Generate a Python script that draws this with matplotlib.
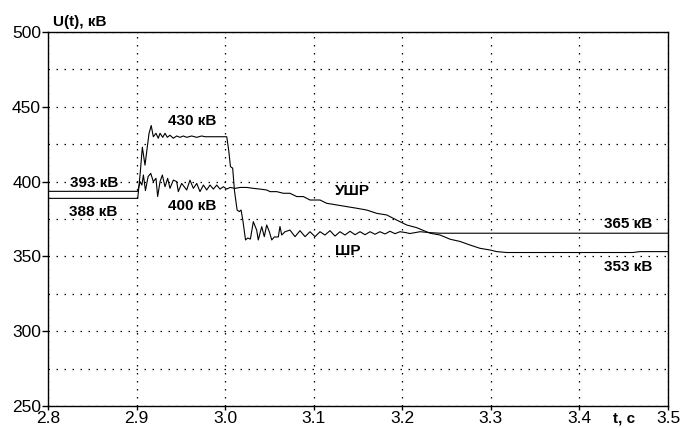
import matplotlib

matplotlib.use("Agg")
import matplotlib.pyplot as plt
from matplotlib.ticker import FormatStrFormatter, MultipleLocator


plt.rcParams["font.family"] = ["Liberation Sans", "DejaVu Sans"]

TICK_FONT_SIZE = 12.5
NOTE_FONT_SIZE = 11

# ШР (fixed shunt reactor) curve
SR_T = [
    2.800, 2.9013, 2.9040, 2.9065, 2.9095, 2.9140, 2.9165, 2.9189, 2.9219,
    2.9245, 2.9265, 2.9295, 2.9321, 2.9347, 2.9377, 2.9415, 2.9453, 2.9490,
    2.9528, 2.9566, 2.9622, 2.9679, 2.9735, 2.9773, 3.0018, 3.0040, 3.0060,
    3.0085, 3.0105, 3.0135, 3.0160, 3.0180, 3.0200, 3.0230, 3.0255, 3.0285,
    3.0318, 3.0356, 3.0374, 3.0413, 3.0442, 3.0469, 3.0499, 3.0526, 3.0555,
    3.0600, 3.0619, 3.0639, 3.0676, 3.0732, 3.0789, 3.0845, 3.0902, 3.0958,
    3.1015, 3.1071, 3.1127, 3.1184, 3.1240, 3.1297, 3.1353, 3.1410, 3.1466,
    3.1523, 3.1579, 3.1636, 3.1692, 3.1748, 3.1805, 3.1861, 3.1918, 3.1974,
    3.2031, 3.2087, 3.2200, 3.2313, 3.2426, 3.500,
]
SR_U = [
    388.8, 388.8, 405.0, 423.0, 411.0, 432.0, 437.5, 430.0, 432.3,
    429.0, 432.3, 429.6, 432.3, 429.6, 431.0, 429.0, 430.5, 429.6,
    430.5, 429.6, 430.5, 429.6, 430.5, 430.0, 430.0, 421.0, 410.0,
    409.0, 394.0, 381.0, 380.0, 381.0, 374.0, 361.0, 362.3, 361.6,
    373.2, 367.6, 361.0, 369.9, 363.2, 371.0, 366.5, 361.0, 363.0,
    363.0, 370.0, 364.3, 366.5, 367.6, 363.2, 367.2, 363.2, 366.5,
    363.2, 366.5, 364.3, 367.2, 363.6, 366.5, 364.3, 366.8, 364.5,
    366.5, 364.5, 366.5, 364.8, 366.5, 365.0, 366.8, 365.2, 366.5,
    366.0, 365.3, 366.5, 365.9, 365.5, 365.5,
]

# УШР (controlled shunt reactor) curve
USR_T = [
    2.800, 2.9013, 2.9040, 2.9060, 2.9077, 2.9100, 2.9130, 2.9160, 2.9189,
    2.9219, 2.9238, 2.9265, 2.9291, 2.9321, 2.9351, 2.9377, 2.9415, 2.9453,
    2.9471, 2.9509, 2.9566, 2.9603, 2.9641, 2.9679, 2.9716, 2.9754, 2.9792,
    2.9829, 2.9867, 2.9905, 2.9942, 2.9980, 3.0018, 3.0056, 3.0113, 3.0169,
    3.0245, 3.0318, 3.0394, 3.0469, 3.0507, 3.0582, 3.0657, 3.0732, 3.0808,
    3.0883, 3.0958, 3.1071, 3.1147, 3.1260, 3.1372, 3.1485, 3.1598, 3.1711,
    3.1824, 3.1937, 3.2050, 3.2163, 3.2313, 3.2426, 3.2539, 3.2652, 3.2765,
    3.2878, 3.2990, 3.3066, 3.3179, 3.4605, 3.4684, 3.500,
]
USR_U = [
    393.5, 393.5, 400.0, 397.7, 404.4, 394.0, 403.3, 405.5, 400.0,
    402.2, 390.0, 400.0, 404.4, 396.6, 402.2, 395.5, 401.0, 400.0,
    393.3, 398.8, 394.4, 401.0, 395.5, 398.8, 393.3, 397.7, 394.4,
    397.7, 395.0, 397.7, 395.0, 396.6, 395.0, 396.1, 395.5, 396.1,
    396.1, 395.5, 395.0, 394.4, 393.3, 393.3, 392.2, 392.2, 390.0,
    390.0, 387.7, 387.7, 385.5, 384.4, 383.3, 382.2, 381.0, 378.8,
    377.7, 374.3, 371.0, 369.2, 365.5, 364.3, 361.5, 360.0, 357.6,
    355.4, 354.3, 353.2, 352.6, 352.6, 353.2, 353.2,
]

X_TICKS = [2.8, 2.9, 3.0, 3.1, 3.2, 3.3, 3.4, 3.5]
Y_TICKS = [250, 300, 350, 400, 450, 500]

# (text, t, U) annotations in data coordinates
NOTES = [
    ("393 кВ", 2.852, 399.0),
    ("388 кВ", 2.851, 380.0),
    ("430 кВ", 2.963, 440.5),
    ("400 кВ", 2.963, 383.7),
    ("УШР", 3.144, 393.4),
    ("ШР", 3.138, 353.6),
    ("365 кВ", 3.455, 371.7),
    ("353 кВ", 3.455, 342.6),
]


def style_axes(ax):
    ax.set_xlim(2.8, 3.5)
    ax.set_ylim(250, 500)
    ax.set_xticks(X_TICKS)
    ax.set_yticks(Y_TICKS)
    ax.xaxis.set_major_formatter(FormatStrFormatter("%.1f"))
    ax.yaxis.set_minor_locator(MultipleLocator(25))
    ax.tick_params(axis="both", which="major", direction="out", length=4,
                   width=1, labelsize=TICK_FONT_SIZE, pad=1.0, color="black")
    ax.tick_params(axis="x", which="major", length=3, pad=0.5)
    ax.tick_params(axis="y", which="minor", length=0)
    ax.grid(True, which="both", color="black", linestyle=(0, (1.2, 5.2)),
            linewidth=0.9)
    for spine in ax.spines.values():
        spine.set_linewidth(1.0)
        spine.set_color("black")
    ax.set_axisbelow(True)


def main():
    fig = plt.figure(figsize=(6.81, 4.28), dpi=100)
    ax = fig.add_axes([0.0705, 0.0514, 0.9104, 0.8738])

    ax.plot(SR_T, SR_U, color="black", linewidth=0.8)
    ax.plot(USR_T, USR_U, color="black", linewidth=0.8)
    style_axes(ax)

    for text, t, u in NOTES:
        ax.text(t, u, text, ha="center", va="center",
                fontsize=NOTE_FONT_SIZE, fontweight="bold")

    ax.text(2.806, 502, "U(t), кВ", ha="left", va="bottom",
            fontsize=NOTE_FONT_SIZE, fontweight="bold", clip_on=False)
    ax.text(3.450, 246.5, "t, c", ha="center", va="top",
            fontsize=NOTE_FONT_SIZE, fontweight="bold", clip_on=False)

    fig.savefig("out.png", dpi=100)


if __name__ == "__main__":
    main()
